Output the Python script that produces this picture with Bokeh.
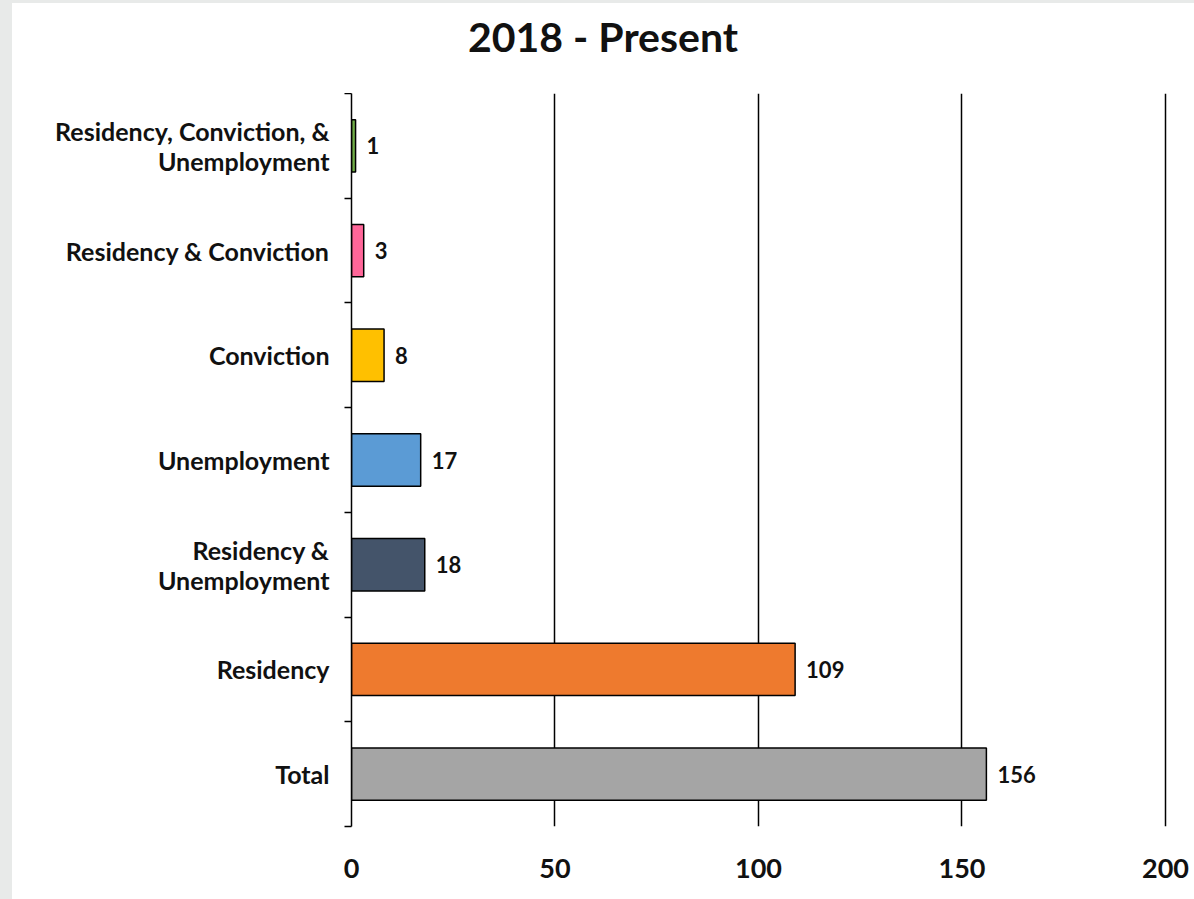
from bokeh.plotting import figure
from bokeh.models import Range1d, FixedTicker, Div, ColumnDataSource
from bokeh.layouts import column
from bokeh.core.properties import value
from bokeh.embed import file_html
from bokeh.resources import INLINE

title_text = "2018 - Present"
categories = ["Total", "Residency", "Residency &\nUnemployment", "Unemployment",
              "Conviction", "Residency & Conviction",
              "Residency, Conviction, &\nUnemployment"]
values = [156, 109, 18, 17, 8, 3, 1]
colors = ["#A5A5A5", "#EE7A2E", "#44546A", "#5B9BD5", "#FFC000", "#FF6699", "#70AD47"]
x_ticks = [0, 50, 100, 150, 200]

FONT = "Lato"
positions = list(range(len(categories)))
boundaries = [i - 0.5 for i in range(len(categories) + 1)]

src = ColumnDataSource(dict(y=positions, v=values, c=colors,
                            lab=[str(v) for v in values]))

p = figure(width=1182, height=806, output_backend="svg", toolbar_location=None,
           x_range=Range1d(0, 200.5), y_range=Range1d(-0.5, len(categories) - 0.5),
           min_border_left=339, min_border_right=27, min_border_top=0,
           min_border_bottom=73, outline_line_color=None, margin=0,
           background_fill_color="white", border_fill_color="white")

p.hbar(y="y", right="v", left=0, height=0.5, fill_color="c", line_color="black",
       line_width=1.5, source=src)
p.text(x="v", y="y", text="lab", x_offset=11, text_baseline="middle",
       text_align="left", text_font=value(FONT), text_font_style="bold",
       text_font_size="22px", text_color="#111111", source=src)

# x axis
p.xaxis.ticker = FixedTicker(ticks=x_ticks)
p.xaxis.axis_line_color = None
p.xaxis.major_tick_line_color = None
p.xaxis.minor_tick_line_color = None
p.xaxis.major_label_standoff = 26
p.xaxis.major_label_text_font = FONT
p.xaxis.major_label_text_font_style = "bold"
p.xaxis.major_label_text_font_size = "27px"
p.xaxis.major_label_text_color = "#111111"

p.xgrid.ticker = FixedTicker(ticks=x_ticks)
p.xgrid.grid_line_color = "black"
p.xgrid.grid_line_width = 1.5
p.ygrid.grid_line_color = None

# y axis
p.yaxis.ticker = FixedTicker(ticks=positions, minor_ticks=boundaries)
p.yaxis.major_label_overrides = {i: c for i, c in zip(positions, categories)}
p.yaxis.axis_line_color = "black"
p.yaxis.axis_line_width = 1.5
p.yaxis.major_tick_line_color = None
p.yaxis.minor_tick_line_color = "black"
p.yaxis.minor_tick_line_width = 1.5
p.yaxis.minor_tick_out = 7
p.yaxis.minor_tick_in = 0
p.yaxis.major_label_standoff = 15
p.yaxis.major_label_text_font = FONT
p.yaxis.major_label_text_font_style = "bold"
p.yaxis.major_label_text_font_size = "25px"
p.yaxis.major_label_text_line_height = 1.0
p.yaxis.major_label_text_color = "#111111"

div = Div(text=title_text, width=1182, height=90, margin=0,
          styles={"font-family": FONT, "font-size": "41px", "font-weight": "bold",
                  "text-align": "center", "line-height": "68px", "color": "#111111",
                  "width": "1182px", "background-color": "white"})

layout = column(div, p, spacing=0, margin=(3, 0, 0, 12),
                styles={"background-color": "white"})

html = file_html(layout, INLINE)
style = ("<style>html, body { margin: 0 !important; padding: 0 !important; "
         "background-color: #E8EAE9 !important; }</style>")
html = html.replace("</head>", style + "</head>", 1)
open("out.html", "w").write(html)
